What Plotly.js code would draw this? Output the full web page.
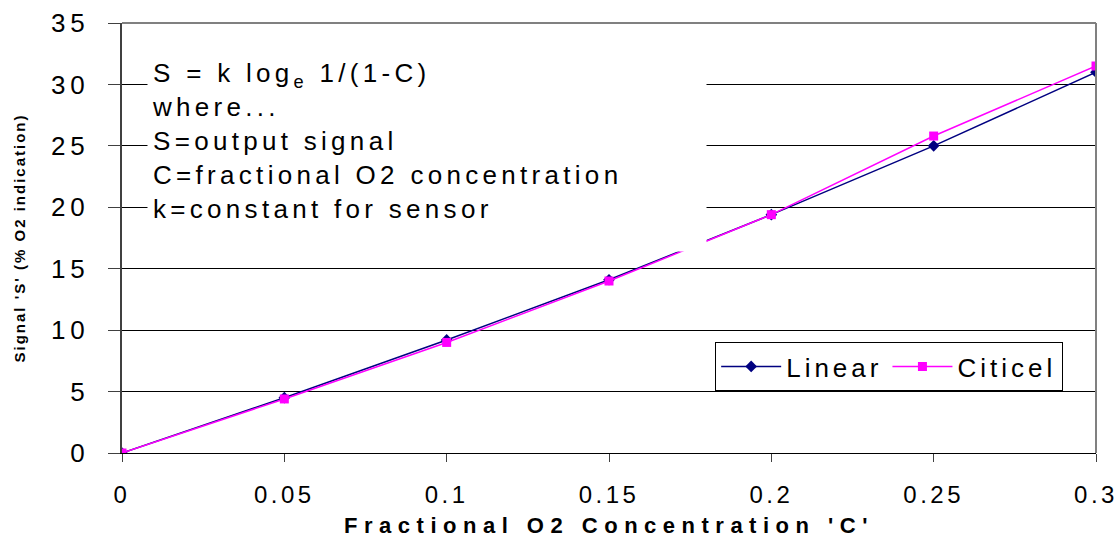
<!DOCTYPE html>
<html>
<head>
<meta charset="utf-8">
<script src="https://cdn.plot.ly/plotly-3.0.1.min.js"></script>
<style>
  html, body { margin: 0; padding: 0; background: #fff; }
  #chart { width: 1117px; height: 548px; }
  .ytick text { letter-spacing: 5px; }
  .xtick text { letter-spacing: 3.5px; }
  .g-xtitle text { letter-spacing: 6.5px; }
  .g-ytitle text { letter-spacing: 2px; }
  .annotation-text { letter-spacing: 4.3px; }
  .legendtext { letter-spacing: 4px; }
</style>
</head>
<body>
<div id="chart"></div>
<script>
const concentration = [0, 0.05, 0.1, 0.15, 0.2, 0.25, 0.3];
const linearSignal  = [0, 4.5, 9.2, 14.1, 19.4, 25.0, 31.0];
const citicelSignal = [0, 4.4, 9.0, 14.0, 19.4, 25.8, 31.5];
const seriesNames = ['Linear', 'Citicel'];
const xTitle = "Fractional O2 Concentration 'C'";
const yTitle = "Signal 'S' (% O2 indication)";
const formulaLines = [
  'S = k log<sub>e</sub> 1/(1-C)',
  'where...',
  'S=output signal',
  'C=fractional O2 concentration',
  'k=constant for sensor'
];

const font = 'Liberation Sans, Arial, sans-serif';

const traces = [
  {
    x: concentration, y: linearSignal, name: seriesNames[0],
    type: 'scatter', mode: 'lines+markers',
    line: {color: '#000080', width: 1.5},
    marker: {symbol: 'diamond', size: 9, color: '#000080'}
  },
  {
    x: concentration, y: citicelSignal, name: seriesNames[1],
    type: 'scatter', mode: 'lines+markers',
    line: {color: '#FF00FF', width: 1.5},
    marker: {symbol: 'square', size: 9, color: '#FF00FF'}
  }
];

const layout = {
  width: 1117, height: 548,
  margin: {l: 122, r: 21, t: 23, b: 95},
  paper_bgcolor: '#fff', plot_bgcolor: '#fff',
  font: {family: font, color: '#000'},
  showlegend: true,
  legend: {
    orientation: 'h',
    x: 0.609, y: 0.258, xanchor: 'left', yanchor: 'top',
    bgcolor: '#fff', bordercolor: '#000', borderwidth: 1,
    font: {size: 26, family: font, color: '#000'},
    itemwidth: 60
  },
  xaxis: {
    range: [0, 0.3], dtick: 0.05, tick0: 0,
    showgrid: false, zeroline: false,
    showline: true, linecolor: '#000', linewidth: 1,
    ticks: 'outside', ticklen: 8, tickcolor: '#404040', tickwidth: 1,
    ticklabelstandoff: 12, ticklabeloverflow: 'allow',
    tickfont: {size: 24, family: font, color: '#000'},
    title: {text: xTitle, font: {size: 22, family: font, color: '#000', weight: 'bold'}, standoff: 10}
  },
  yaxis: {
    range: [0, 35], dtick: 5, tick0: 0,
    showgrid: true, gridcolor: '#000', gridwidth: 1,
    zeroline: false,
    showline: true, linecolor: '#404040', linewidth: 2,
    ticks: 'outside', ticklen: 12, tickcolor: '#404040', tickwidth: 1,
    ticklabelstandoff: 13, ticklabeloverflow: 'allow',
    tickfont: {size: 26, family: font, color: '#000'},
    title: {text: yTitle, font: {size: 15, family: font, color: '#000', weight: 'bold'}, standoff: 22}
  },
  shapes: [
    {type: 'line', xref: 'paper', yref: 'paper', x0: 0, x1: 1, y0: 1, y1: 1,
     line: {color: '#808080', width: 2}},
    {type: 'line', xref: 'paper', yref: 'paper', x0: 1, x1: 1, y0: 0, y1: 1,
     line: {color: '#808080', width: 2}}
  ],
  annotations: [
    {
      xref: 'paper', yref: 'paper', x: 0.0257, y: 0.984,
      xanchor: 'left', yanchor: 'top', align: 'left', valign: 'middle',
      text: formulaLines.join('<br>'),
      showarrow: false, bgcolor: '#fff',
      width: 550, height: 212, borderpad: 4,
      font: {size: 26, family: font, color: '#000'}
    }
  ]
};

Plotly.newPlot('chart', traces, layout, {displayModeBar: false, staticPlot: true});
</script>
</body>
</html>
